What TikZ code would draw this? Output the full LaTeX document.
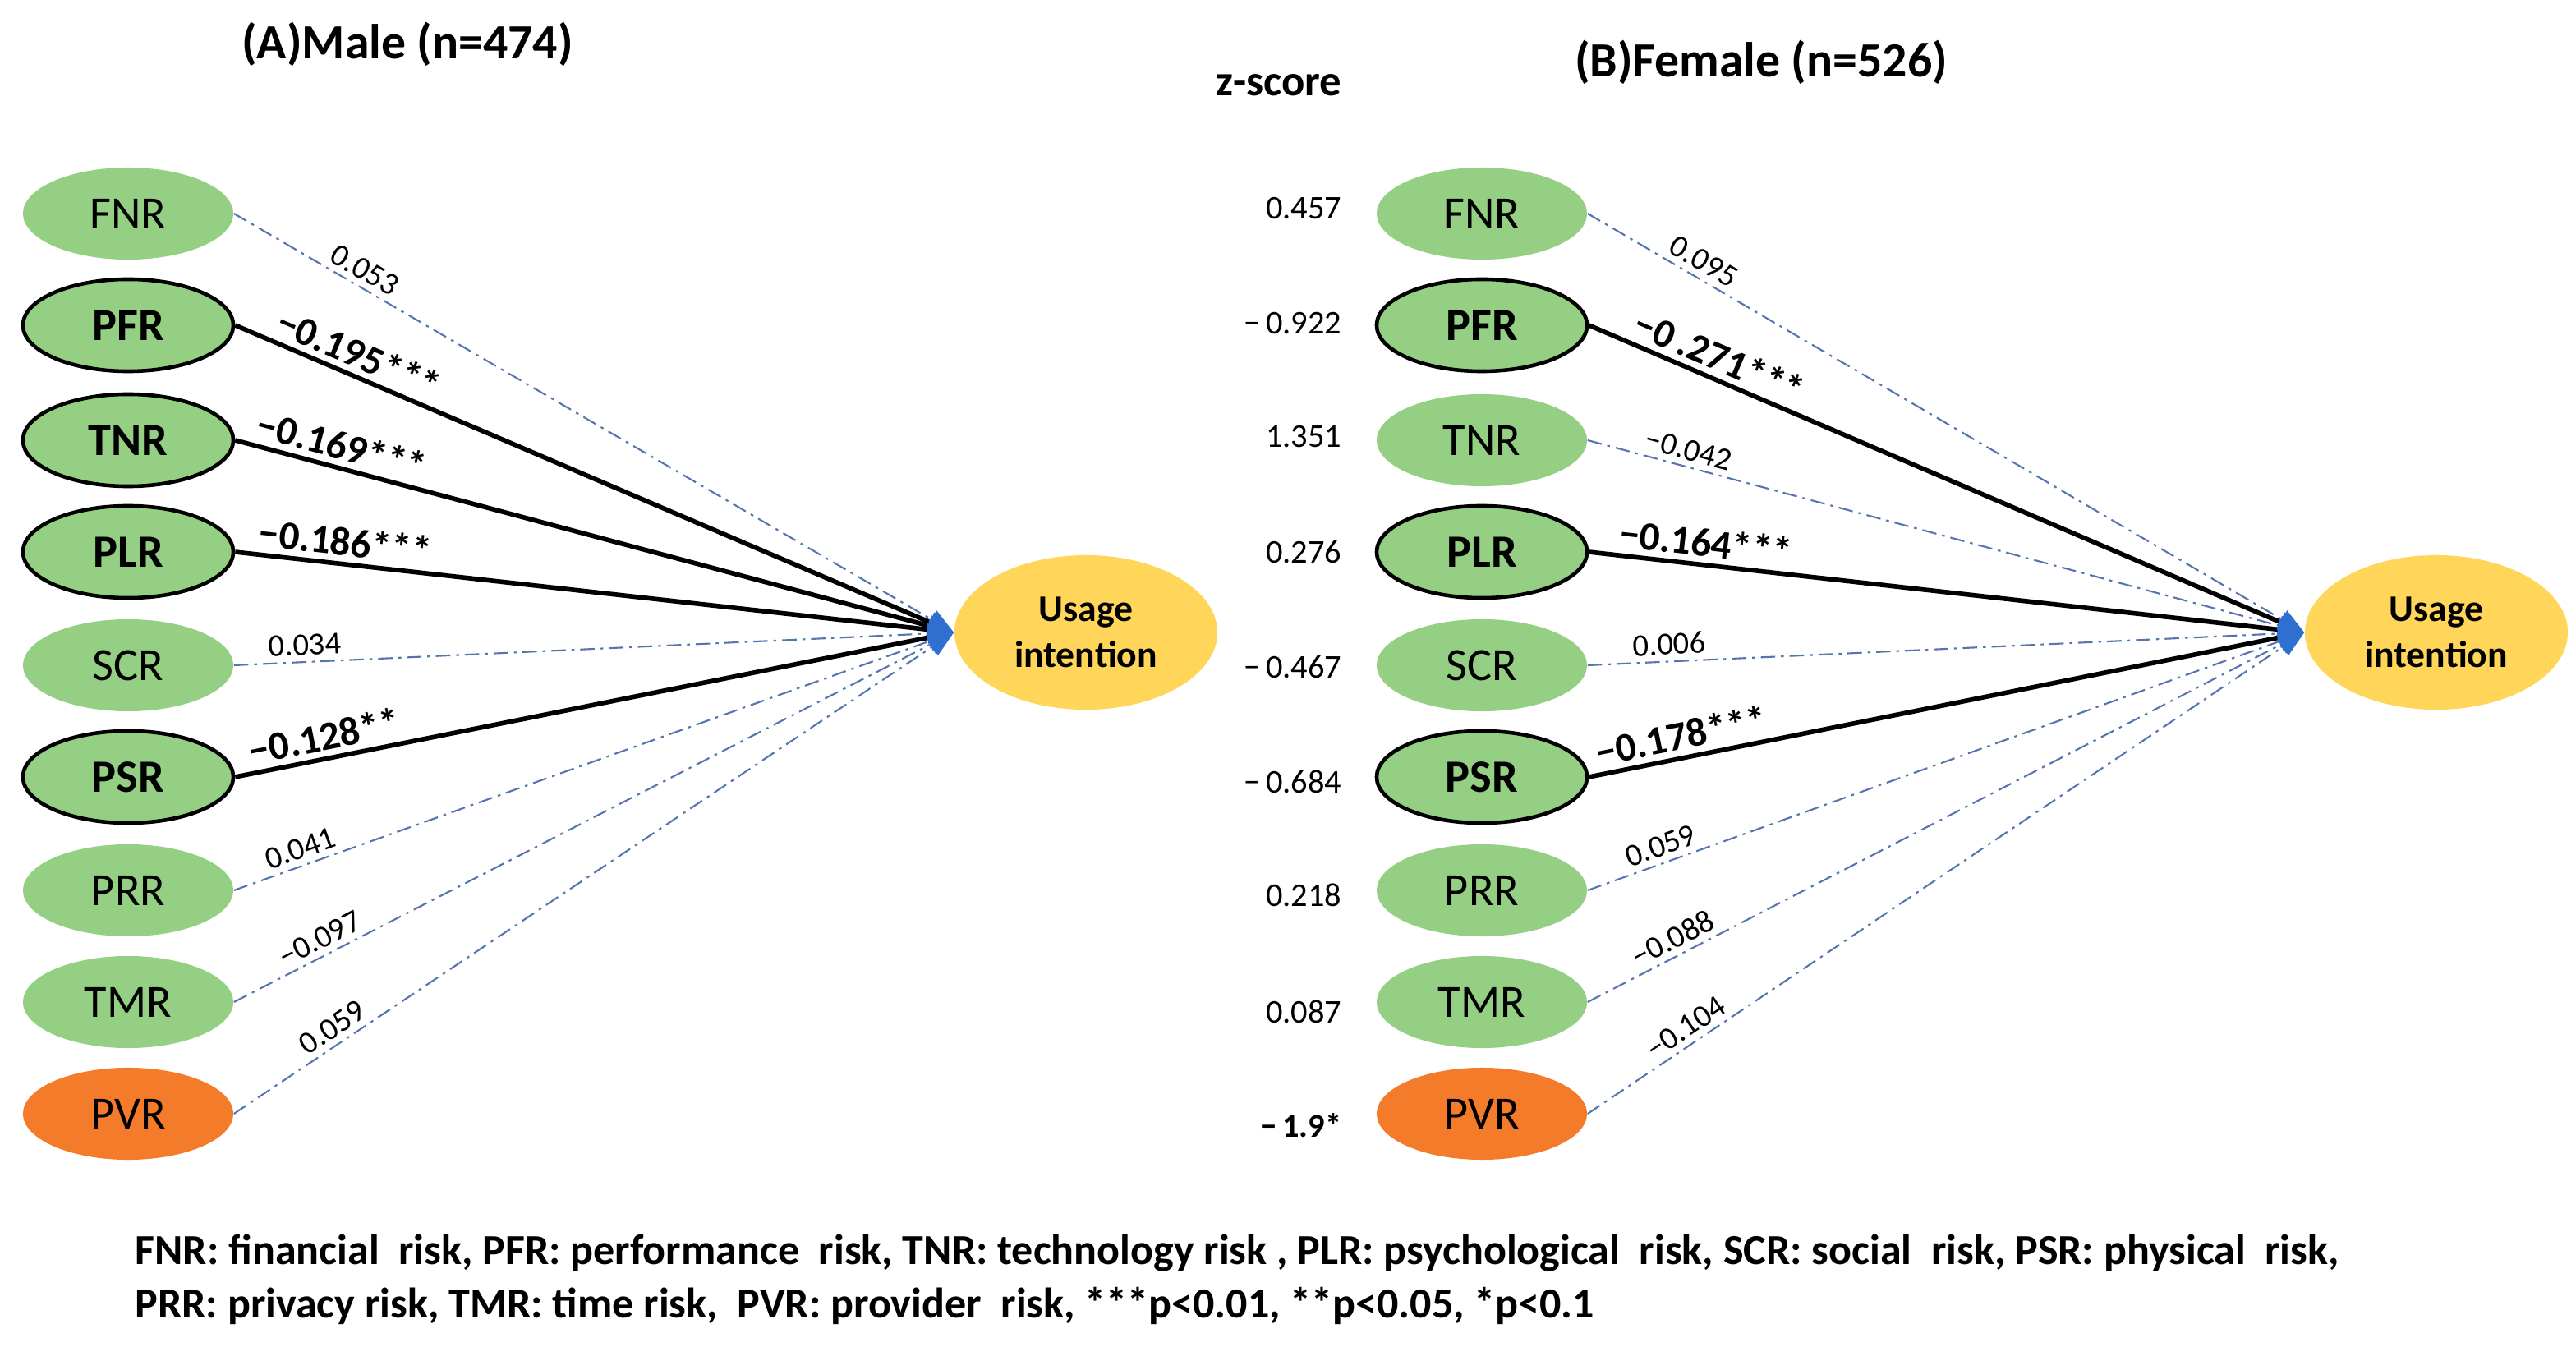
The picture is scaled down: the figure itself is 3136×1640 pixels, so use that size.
\documentclass[tikz,border=0pt]{standalone}
\usepackage{fontspec}
\setmainfont{Carlito}
\usetikzlibrary{shapes.geometric,arrows.meta}
\definecolor{riskgreen}{HTML}{94CF83}
\definecolor{provorange}{HTML}{F47B2A}
\definecolor{useyellow}{HTML}{FFD55A}
\definecolor{dashblue}{HTML}{5674AE}
\definecolor{tipblue}{HTML}{2E6FD0}
\tikzset{
	gnode/.style={ellipse,fill=riskgreen,minimum width=2.56cm,minimum height=1.12cm,inner sep=0pt,font=\fontsize{16}{19}\selectfont},
	bgnode/.style={gnode,draw=black,line width=1.3pt,font=\fontsize{16}{19}\selectfont\bfseries},
	onode/.style={gnode,fill=provorange},
	ynode/.style={ellipse,fill=useyellow,minimum width=3.2cm,minimum height=1.88cm,inner sep=0pt,align=center,font=\fontsize{13}{16}\selectfont\bfseries},
	dline/.style={draw=dashblue,line width=0.6pt,dash pattern=on 5pt off 2pt on 1pt off 2pt,-{Triangle[length=9pt,width=7pt,color=tipblue]}},
	bline/.style={draw=black,line width=1.6pt,-{Triangle[length=9pt,width=7pt,color=tipblue]}},
	wlab/.style={sloped,above,inner sep=2pt,font=\fontsize{11}{13}\selectfont},
	blab/.style={sloped,above,inner sep=2pt,font=\fontsize{14}{17}\selectfont\bfseries},
	zval/.style={anchor=east,inner sep=0pt,font=\fontsize{11.5}{13}\selectfont},
	ttl/.style={font=\fontsize{17}{20}\selectfont\bfseries},
	foot/.style={anchor=west,inner sep=0pt,font=\fontsize{14.8}{17}\selectfont\bfseries}
}
\begin{document}
\begin{tikzpicture}[x=0.01cm,y=-0.01cm]
\useasboundingbox (0,0) rectangle (3136,1640);

\node [ttl] (ttlA) at (496,54) {(A)Male (n=474)};
\node [ttl] (ttlB) at (2144,76) {(B)Female (n=526)};
\node [ttl,font=\fontsize{15}{18}\selectfont\bfseries,anchor=east,inner sep=0pt] (zhead) at (1634,104) {z-score};

% (A) male
\node [gnode] (lFNR) at (156,260) {FNR};
\node [bgnode] (lPFR) at (156,396) {PFR};
\node [bgnode] (lTNR) at (156,536) {TNR};
\node [bgnode] (lPLR) at (156,672) {PLR};
\node [gnode] (lSCR) at (156,810) {SCR};
\node [bgnode] (lPSR) at (156,946) {PSR};
\node [gnode] (lPRR) at (156,1084) {PRR};
\node [gnode] (lTMR) at (156,1220) {TMR};
\node [onode] (lPVR) at (156,1356) {PVR};
\node [ynode] (lUI) at (1322,770) {Usage\\intention};

\draw [dline] (lFNR.east) -- (lUI.west) node [wlab,pos=.17] {0.053};
\draw [bline] (lPFR.east) -- (lUI.west) node [blab,pos=.16] {−0.195***};
\draw [bline] (lTNR.east) -- (lUI.west) node [blab,pos=.14] {−0.169***};
\draw [bline] (lPLR.east) -- (lUI.west) node [blab,pos=.15] {−0.186***};
\draw [dline] (lSCR.east) -- (lUI.west) node [wlab,pos=.10] {0.034};
\draw [bline] (lPSR.east) -- (lUI.west) node [blab,pos=.13] {−0.128**};
\draw [dline] (lPRR.east) -- (lUI.west) node [wlab,pos=.10] {0.041};
\draw [dline] (lTMR.east) -- (lUI.west) node [wlab,pos=.13] {−0.097};
\draw [dline] (lPVR.east) -- (lUI.west) node [wlab,pos=.15] {0.059};

% z-scores
\node [zval] (z1) at (1634,254) {0.457};
\node [zval] (z2) at (1634,394) {−\,0.922};
\node [zval] (z3) at (1634,532) {1.351};
\node [zval] (z4) at (1634,672) {0.276};
\node [zval] (z5) at (1634,812) {−\,0.467};
\node [zval] (z6) at (1634,952) {−\,0.684};
\node [zval] (z7) at (1634,1090) {0.218};
\node [zval] (z8) at (1634,1232) {0.087};
\node [zval,font=\fontsize{11.5}{13}\selectfont\bfseries] (z9) at (1634,1370) {−\,1.9*};

% (B) female
\node [gnode] (rFNR) at (1804,260) {FNR};
\node [bgnode] (rPFR) at (1804,396) {PFR};
\node [gnode] (rTNR) at (1804,536) {TNR};
\node [bgnode] (rPLR) at (1804,672) {PLR};
\node [gnode] (rSCR) at (1804,810) {SCR};
\node [bgnode] (rPSR) at (1804,946) {PSR};
\node [gnode] (rPRR) at (1804,1084) {PRR};
\node [gnode] (rTMR) at (1804,1220) {TMR};
\node [onode] (rPVR) at (1804,1356) {PVR};
\node [ynode] (rUI) at (2966,770) {Usage\\intention};

\draw [dline] (rFNR.east) -- (rUI.west) node [wlab,pos=.15] {0.095};
\draw [bline] (rPFR.east) -- (rUI.west) node [blab,pos=.17] {−0\,.271***};
\draw [dline] (rTNR.east) -- (rUI.west) node [wlab,pos=.135] {−0.042};
\draw [bline] (rPLR.east) -- (rUI.west) node [blab,pos=.16] {−0.164***};
\draw [dline] (rSCR.east) -- (rUI.west) node [wlab,pos=.115] {0.006};
\draw [bline] (rPSR.east) -- (rUI.west) node [blab,pos=.135] {−0.178***};
\draw [dline] (rPRR.east) -- (rUI.west) node [wlab,pos=.11] {0.059};
\draw [dline] (rTMR.east) -- (rUI.west) node [wlab,pos=.13] {−0.088};
\draw [dline] (rPVR.east) -- (rUI.west) node [wlab,pos=.15] {−0.104};

\node [foot] (foot1) at (164,1526) {FNR: financial\ \ risk, PFR: performance\ \ risk, TNR: technology risk , PLR: psychological\ \ risk, SCR: social\ \ risk, PSR: physical\ \ risk,};
\node [foot] (foot2) at (164,1590) {PRR: privacy risk, TMR: time risk,\ \ PVR: provider\ \ risk, ***p<0.01, **p<0.05, *p<0.1};
\end{tikzpicture}
\end{document}
